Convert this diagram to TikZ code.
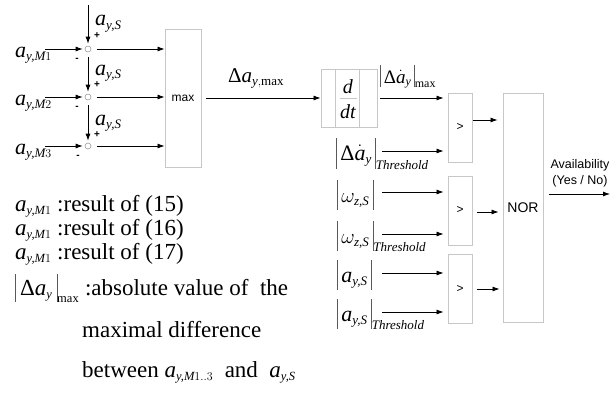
\documentclass[tikz,border=0pt]{standalone}
\usepackage{amsmath}
\usepackage{fontspec}
\setmainfont{Liberation Serif}
\newfontfamily\arialf{Liberation Sans}
\usetikzlibrary{arrows.meta}
\DeclareMathSizes{18}{18}{12}{9}
\DeclareMathSizes{19}{19}{12}{9}
\DeclareMathSizes{20}{20}{13}{10}
\DeclareMathSizes{21}{21}{13}{10}
\DeclareMathSizes{22}{22}{13}{10}
\DeclareMathSizes{23}{23}{12.5}{9}
\newcommand\va[1]{\textit{a}_{\textit{#1}}}
\newcommand\vb[2]{\mathord{\textcolor{black!65}{\vrule height #1 depth #2 width 0.7pt}}}
\begin{document}
\begin{tikzpicture}[x=1pt,y=-1pt,
  arr/.style={-{Latex[length=7pt,width=5pt]}, line width=0.8pt},
  blk/.style={draw=black!22, line width=0.9pt, inner sep=0pt},
  thin/.style={draw=black!22, line width=0.9pt},
  sumc/.style={circle, draw=black!40, line width=0.6pt, minimum size=6pt, inner sep=0pt},
  lab/.style={inner sep=0pt, anchor=base west, font=\fontsize{22}{26}\selectfont},
  mid/.style={inner sep=0pt, anchor=base west, font=\fontsize{21}{25}\selectfont},
  txt/.style={inner sep=0pt, anchor=base west, font=\fontsize{23}{27}\selectfont},
  sgn/.style={inner sep=0pt, font=\arialf\bfseries\fontsize{10}{11}\selectfont},
  sans/.style={font=\arialf\fontsize{12}{14}\selectfont}]
\useasboundingbox (0,0) rectangle (610,396);

% summing junctions
\node[sumc] (s1) at (88,49) {};
\node[sumc] (s2) at (88,97) {};
\node[sumc] (s3) at (88,146) {};
\coordinate (top) at (88,5);
\draw[arr, shorten >=2pt] (top) -- (s1.north);
\draw[arr, shorten >=2pt] ([yshift=-5pt]s1.south) -- (s2.north);
\draw[arr, shorten >=2pt] ([yshift=-5pt]s2.south) -- (s3.north);
\node[lab] (ls1) at (95,26) {$\va{y,S}$};
\node[lab] (ls2) at (95,75) {$\va{y,S}$};
\node[lab] (ls3) at (95,125) {$\va{y,S}$};
\node[sgn] (p1) at (97,36) {+};
\node[sgn] (p2) at (97,85) {+};
\node[sgn] (p3) at (97,135) {+};
\node[sgn] (m1) at (77,60) {-};
\node[sgn] (m2) at (77,108) {-};
\node[sgn] (m3) at (78,157) {-};

% inputs
\coordinate (i1) at (45,49);
\coordinate (i2) at (45,97);
\coordinate (i3) at (45,146);
\draw[arr, shorten >=2pt] (i1) -- (s1.west);
\draw[arr, shorten >=2pt] (i2) -- (s2.west);
\draw[arr, shorten >=2pt] (i3) -- (s3.west);
\node[lab] (lm1) at (15,57) {$\textit{a}_{\textit{y,M}1}$};
\node[lab] (lm2) at (15,105) {$\textit{a}_{\textit{y,M}2}$};
\node[lab] (lm3) at (15,154) {$\textit{a}_{\textit{y,M}3}$};

% max block
\node[blk, minimum width=36pt, minimum height=138pt, sans] (mx) at (183,98) {max};
\draw[arr] ([xshift=6pt]s1.east) -- (s1.east -| mx.west);
\draw[arr] ([xshift=6pt]s2.east) -- (s2.east -| mx.west);
\draw[arr] ([xshift=6pt]s3.east) -- (s3.east -| mx.west);

% d/dt block
\node[blk, minimum width=56pt, minimum height=58pt] (ddt) at (349,98) {};
\draw[thin] ([xshift=15pt]ddt.north west) -- ([xshift=15pt]ddt.south west);
\draw[thin] ([xshift=39pt]ddt.north west) -- ([xshift=39pt]ddt.south west);
\draw[thin] ([xshift=19pt]ddt.west) -- ([xshift=36pt]ddt.west);
\node[inner sep=0pt, font=\fontsize{20}{24}\selectfont] (dn) at (348,87) {\textit{d}};
\node[inner sep=0pt, font=\fontsize{20}{24}\selectfont] (dd) at (348,112) {\textit{dt}};
\draw[arr] ([xshift=5pt]mx.east) -- (mx.east -| ddt.west);
\node[mid] (ldm) at (228,82) {$\textup{Δ}\textit{a}_{\textit{y},\textup{max}}$};

% comparators
\node[blk, minimum width=24pt, minimum height=69pt, sans] (c1) at (460,127.5) {>};
\node[blk, minimum width=24pt, minimum height=69pt, sans] (c2) at (460,210.5) {>};
\node[blk, minimum width=24pt, minimum height=69pt, sans] (c3) at (460,288.5) {>};
\node[blk, minimum width=40pt, minimum height=229pt, font=\arialf\fontsize{14}{16}\selectfont] (nor) at (523,207.5) {NOR};

\draw[arr, shorten >=4pt] ([xshift=3pt]ddt.east) -- (ddt.east -| c1.west);
\node[inner sep=0pt, anchor=base west, font=\fontsize{19}{23}\selectfont] (ldd) at (380,83)
  {$\vb{18pt}{4pt}\,\textup{Δ}\dot{\textit{a}}_{\textit{y}}\,\vb{18pt}{4pt}_{\textup{max}}$};

\coordinate (q2) at (382,151);
\coordinate (q3) at (382,192);
\coordinate (q4) at (382,234);
\coordinate (q5) at (382,273);
\coordinate (q6) at (382,312);
\draw[arr, shorten >=4pt] (q2) -- (q2 -| c1.west);
\draw[arr, shorten >=4pt] (q3) -- (q3 -| c2.west);
\draw[arr, shorten >=4pt] (q4) -- (q4 -| c2.west);
\draw[arr, shorten >=4pt] (q5) -- (q5 -| c3.west);
\draw[arr, shorten >=4pt] (q6) -- (q6 -| c3.west);
\node[lab] (l2) at (336,160) {$\vb{22pt}{9pt}\,\textup{Δ}\dot{\textit{a}}_{\textit{y}}\,\vb{22pt}{9pt}_{\textit{Threshold}}$};
\node[lab] (l3) at (337,202) {$\vb{22pt}{8pt}\,\omega_{\textit{z,S}}\,\vb{22pt}{8pt}$};
\node[lab] (l4) at (337,243) {$\vb{22pt}{8pt}\,\omega_{\textit{z,S}}\,\vb{22pt}{8pt}_{\textit{Threshold}}$};
\node[lab] (l5) at (337,282) {$\vb{22pt}{8pt}\,\va{y,S}\,\vb{22pt}{8pt}$};
\node[lab] (l6) at (337,321) {$\vb{22pt}{8pt}\,\va{y,S}\,\vb{22pt}{8pt}_{\textit{Threshold}}$};

\coordinate (o1) at (473,120);
\coordinate (o2) at (477,212);
\coordinate (o3) at (477,289);
\draw[arr, shorten >=5pt] (o1) -- (o1 -| nor.west);
\draw[arr, shorten >=4pt] (o2) -- (o2 -| nor.west);
\draw[arr, shorten >=3pt] (o3) -- (o3 -| nor.west);

% output
\coordinate (y0) at (549,194);
\coordinate (y1) at (610,194);
\draw[arr] (y0) -- (y1);
\node[align=center, inner sep=0pt, font=\arialf\fontsize{12.5}{16}\selectfont] (av) at (580,173) {Availability\\(Yes / No)};

% legend
\node[txt] (r1) at (15,211) {$\textit{a}_{\textit{y,M}1}$ :result of (15)};
\node[txt] (r2) at (15,235) {$\textit{a}_{\textit{y,M}1}$ :result of (16)};
\node[txt] (r3) at (15,259) {$\textit{a}_{\textit{y,M}1}$ :result of (17)};
\node[txt] (r4) at (15,295) {$\vb{21pt}{7pt}\,\textup{Δ}\textit{a}_{\textit{y}}\,\vb{21pt}{7pt}_{\textup{max}}$ :absolute value of \ the};
\node[txt] (r5) at (82,337) {maximal difference};
\node[txt] (r6) at (82,377) {between $\textit{a}_{\textit{y,M}1..3}$ \ and \ $\va{y,S}$};
\end{tikzpicture}
\end{document}
